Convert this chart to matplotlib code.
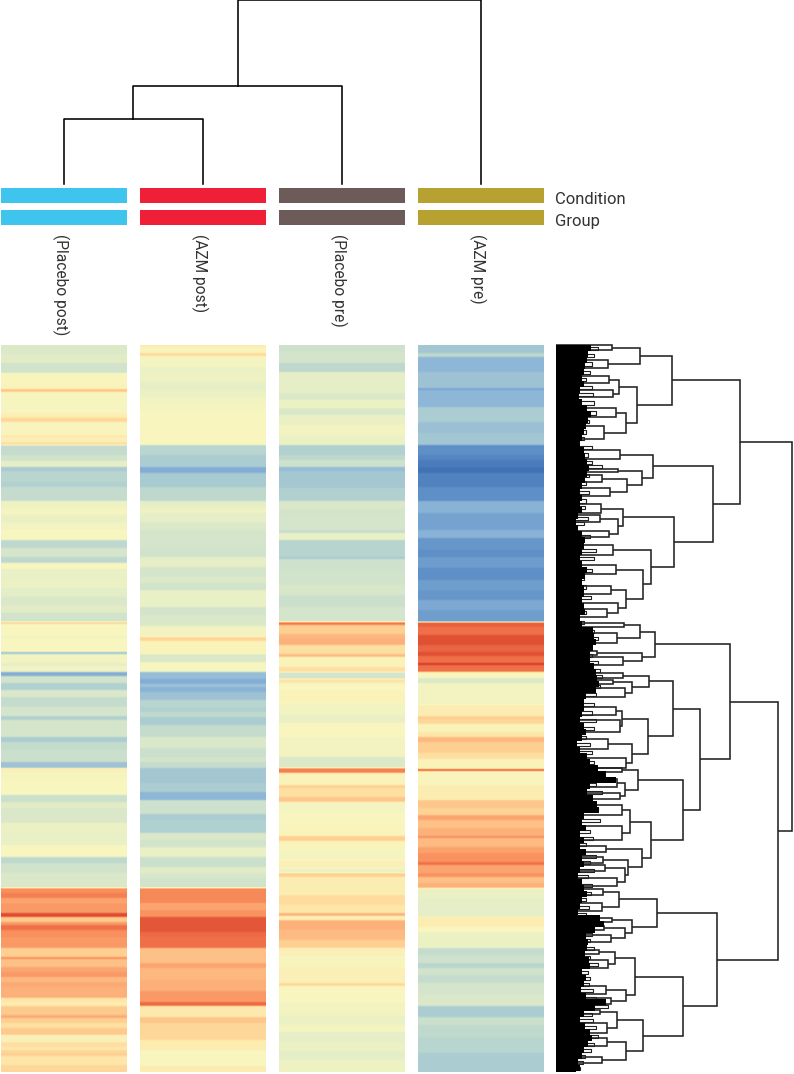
import numpy as np
import matplotlib
matplotlib.use("Agg")
import matplotlib.pyplot as plt
from matplotlib.colors import LinearSegmentedColormap

FIG_W, FIG_H = 794, 1074
N_ROWS = 727

group_labels = ["(Placebo post)", "(AZM post)", "(Placebo pre)", "(AZM pre)"]
group_colors = ["#3FC4EE", "#EE1F36", "#6C5B59", "#B7A231"]
strip_labels = ["Condition", "Group"]

# (first row of the band, scaled expression) read top to bottom, one list per column
placebo_post = [
    (0, -.12), (10, -.10), (18, -.17), (28, .02), (38, .03), (44, .36), (47, -.01), (67, .05), (71, .12), (73, .26),
    (77, .01), (90, .13), (93, .05), (97, .22), (100, -.22), (110, -.17), (116, -.08), (122, -.35), (126, -.27),
    (137, -.30), (142, -.22), (156, -.04), (163, -.02), (170, -.06), (178, -.03), (185, .0), (195, -.25), (203, -.15),
    (212, -.25), (218, .0), (224, -.07), (234, -.05), (243, -.09), (252, -.13), (260, -.10), (268, -.17), (277, .30),
    (279, .0), (291, -.05), (293, .0), (307, -.40), (309, -.03), (318, -.08), (321, -.03), (327, -.55), (331, -.17),
    (338, -.30), (345, -.13), (352, -.22), (362, -.15), (371, -.30), (375, -.15), (392, -.33), (397, -.22), (405, -.20),
    (417, -.40), (423, .05), (428, -.02), (434, .02), (437, .0), (450, -.20), (457, -.10), (463, -.13), (468, -.13),
    (478, -.05), (488, -.07), (500, .0), (512, -.25), (518, -.17), (528, -.13), (543, .60), (548, .66), (553, .50),
    (558, .55), (568, .90), (572, .33), (577, .55), (580, .72), (585, .60), (592, .55), (603, .30), (612, .60),
    (614, .38), (622, .50), (627, .55), (632, .42), (637, .48), (642, .45), (653, .15), (657, .10), (661, .33),
    (670, .48), (673, .30), (678, .20), (683, .33), (690, .05), (697, .20), (702, .14), (705, .26), (708, .30),
    (711, .15), (720, .25),
]
azm_post = [
    (0, .10), (2, .03), (8, .25), (11, -.02), (22, -.05), (28, -.04), (37, -.08), (45, -.05), (53, -.03), (60, -.02),
    (67, .0), (100, -.27), (110, -.33), (122, -.55), (128, -.35), (142, -.25), (156, -.08), (163, -.04), (168, -.08),
    (177, -.12), (185, -.15), (202, -.17), (212, -.08), (222, -.15), (232, -.12), (238, -.17), (245, -.07), (262, -.16),
    (270, -.13), (281, -.03), (292, .27), (296, .03), (309, -.13), (317, -.01), (327, -.45), (334, -.55), (339, -.40),
    (342, -.52), (347, -.40), (355, -.27), (362, -.30), (367, -.24), (372, -.33), (380, -.22), (392, -.13), (403, -.20),
    (412, -.16), (417, -.22), (423, -.38), (438, -.33), (447, -.50), (455, -.18), (469, -.33), (475, -.30), (488, -.13),
    (495, -.17), (502, -.07), (512, -.20), (522, -.10), (528, -.14), (533, -.17), (543, .62), (558, .50), (565, .58),
    (572, .85), (587, .75), (592, .72), (603, .38), (618, .50), (623, .42), (635, .46), (646, .55), (657, .75),
    (661, .12), (672, .35), (678, .25), (695, .10), (705, .0), (721, .10),
]
placebo_pre = [
    (0, -.18), (7, -.16), (18, -.25), (27, -.08), (48, -.12), (55, -.05), (63, -.13), (70, -.06), (80, -.03), (90, -.05),
    (100, -.30), (110, -.25), (115, -.18), (122, -.45), (126, -.37), (143, -.30), (156, -.13), (164, -.16), (172, -.15),
    (185, -.22), (188, -.07), (195, -.28), (212, -.35), (214, -.18), (225, -.17), (240, -.14), (250, -.19), (262, -.15),
    (277, .70), (280, .30), (289, .42), (293, .45), (300, .20), (309, .40), (312, .03), (322, .20), (327, -.15),
    (334, .17), (338, .0), (345, .03), (358, -.03), (370, -.06), (378, .0), (392, -.03), (412, -.12), (423, .65),
    (428, .03), (440, .30), (443, .20), (452, .35), (457, -.02), (468, .0), (478, .02), (491, .30), (496, .02),
    (505, -.02), (515, .05), (523, -.05), (528, .30), (532, .08), (550, .22), (560, .15), (568, .45), (571, .05),
    (575, .45), (585, .40), (595, .30), (603, .05), (612, -.02), (617, .03), (623, .05), (638, .25), (641, .0),
    (657, -.03), (670, -.05), (680, -.02), (687, -.08), (697, -.05), (706, -.09), (715, -.04),
]
azm_pre = [
    (0, -.38), (8, -.25), (12, -.50), (27, -.40), (43, -.60), (45, -.50), (62, -.33), (77, -.42), (88, -.38), (100, -.75),
    (110, -.82), (115, -.90), (122, -.97), (128, -.85), (142, -.75), (156, -.52), (168, -.62), (185, -.52), (193, -.70),
    (205, -.75), (212, -.66), (223, -.75), (235, -.65), (245, -.70), (255, -.58), (265, -.65), (277, .80), (282, .72),
    (290, .88), (300, .78), (307, .88), (311, .72), (318, 1.0), (320, .72), (327, .0), (333, -.12), (338, -.03),
    (360, .08), (371, .30), (375, .25), (379, .03), (387, .15), (392, .42), (397, .30), (408, .20), (414, .03),
    (424, .85), (426, .02), (440, .08), (455, .35), (463, .28), (470, .50), (475, .38), (483, .45), (491, .60),
    (493, .40), (502, .52), (508, .58), (517, .72), (520, .50), (528, .58), (532, .38), (538, .45), (543, -.06),
    (553, -.08), (572, .08), (582, .0), (587, -.05), (603, -.22), (610, -.18), (618, -.27), (623, -.17), (630, -.22),
    (638, -.15), (650, -.13), (661, -.33), (672, -.20), (680, -.24), (692, -.27), (708, -.33),
]
heat_columns = [placebo_post, azm_post, placebo_pre, azm_pre]

# sample tree: merge heights above the leaves
col_merge_heights = [65, 98, 184]
col_leaf_height = 0

# gene tree: (merge height, upper child, lower child), a bare number is a leaf row
row_tree = (236,
    (184,
        (116,
            (84, (56, 0, 5), (52, 15, 23)),
            (81,
                (63, (53, 31, 38), (57, 45, 52)),
                (70, (60, 63, 72), (48, 81, 94)))),
        (157,
            (97,
                (64, 105, 114),
                (86, (62, 124, 127), (71, (46, 130, 137), (54, 143, 151)))),
            (118,
                (67, (45, 159, 168), (62, (44, 170, 177), (53, 186, 192))),
                (95,
                    (57, 200, 210),
                    (87, (60, 220, 229), (70, (55, 241, 249), (62, 258, (51, 264, 272)))))))),
    (222,
        (174,
            (99,
                (84, (68, 278, 282), (61, 288, 298)),
                (86, (41, 306, 310), (67, 312, 320))),
            (144,
                (117,
                    (93, (67, 328, 333), (76, (57, 335, 339), (69, 343, 352))),
                    (92,
                        (66, (60, 362, 370), (64, 375, 387)),
                        (76, (52, 394, 404), (70, 413, 423)))),
                (127,
                    (82, (66, 423, 427), (69, (61, 434, 442), (64, 448, 454))),
                    (95,
                        (74, (66, 460, 470), (66, 481, 495)),
                        (86,
                            (50, 501, 507),
                            (72, (47, 512, 518), (69, (49, 520, 526), (61, 533, 541)))))))),
        (161,
            (101,
                (63, (47, 544, 550), (46, 558, 566)),
                (76, (56, 573, 577), (69, (48, 581, 585), (55, 590, 597)))),
            (127,
                (79,
                    (59, (43, 605, 609), (52, 615, 623)),
                    (70, (50, 641, 649), (55, 653, 659))),
                (87,
                    (61, (44, 665, 669), (51, 678, 688)),
                    (70, (51, 693, 701), (46, 712, 718)))))))

# how far the solid black mass of the leaves reaches, one value per 6 rows
leaf_mass = [
    35, 32, 31, 29, 28, 26, 28, 24, 23, 26, 31, 35, 32, 30, 28, 26, 24, 28, 29, 31,
    33, 31, 29, 26, 24, 26, 24, 26, 22, 20, 22, 26, 29, 28, 26, 24, 26, 31, 29, 26,
    28, 28, 26, 28, 29, 24, 26, 37, 38, 40, 37, 34, 34, 38, 40, 41, 43, 40, 30, 28,
    28, 26, 24, 28, 30, 26, 21, 24, 31, 34, 42, 50, 60, 34, 31, 37, 41, 43, 28, 26,
    30, 24, 28, 24, 30, 26, 28, 24, 22, 26, 28, 31, 26, 24, 22, 44, 48, 39, 30, 32,
    31, 29, 33, 34, 26, 30, 28, 25, 30, 50, 39, 28, 24, 29, 34, 36, 32, 28, 26, 22,
    24, 20,
]

# small brackets just right of the black mass: (row, reach, span)
twigs = [
    (2, 42, 3), (9, 38, 3), (17, 36, 4), (26, 34, 3), (33, 30, 3), (41, 36, 3), (48, 37, 3), (56, 38, 4), (66, 40, 4),
    (75, 33, 3), (85, 30, 4), (92, 28, 3), (101, 36, 3), (108, 32, 4), (116, 36, 3), (120, 46, 3), (129, 33, 3),
    (136, 30, 4), (146, 33, 3), (154, 30, 4), (161, 29, 3), (172, 32, 3), (177, 28, 3), (190, 34, 3), (197, 26, 3),
    (204, 40, 3), (212, 38, 3), (224, 36, 3), (232, 28, 3), (240, 30, 4), (251, 35, 3), (266, 30, 3), (276, 28, 3),
    (285, 38, 3), (292, 42, 3), (302, 33, 3), (309, 36, 3), (316, 42, 3), (324, 44, 3), (330, 46, 3), (340, 44, 3),
    (348, 40, 3), (358, 38, 3), (366, 36, 4), (374, 40, 3), (382, 38, 3), (391, 30, 3), (398, 34, 3), (406, 36, 3),
    (416, 38, 3), (422, 30, 3), (431, 36, 3), (438, 40, 3), (446, 46, 3), (456, 38, 3), (463, 42, 3), (474, 44, 3),
    (485, 34, 3), (492, 37, 3), (498, 30, 3), (510, 40, 3), (516, 34, 3), (524, 38, 3), (530, 32, 3), (539, 36, 3),
    (547, 35, 3), (553, 30, 3), (561, 33, 3), (568, 30, 3), (575, 42, 3), (580, 38, 3), (588, 36, 3), (594, 34, 3),
    (602, 38, 3), (611, 34, 3), (618, 42, 3), (626, 32, 3), (632, 34, 3), (638, 33, 3), (644, 37, 3), (652, 40, 3),
    (660, 52, 3), (668, 36, 3), (674, 37, 3), (681, 40, 3), (690, 42, 3), (698, 38, 3), (704, 35, 3), (710, 29, 3),
    (716, 27, 3), (722, 24, 3),
]

# pixel layout of the figure
col_left = [1, 140, 279, 418]
col_width = 125.5
heat_top, heat_bottom = 345, 1072
strip_tops = [188, 210]
strip_height = 15
line_color = "#222222"

heat_cmap = LinearSegmentedColormap.from_list("heat", [
    (0.0, "#3F70B5"), (0.125, "#5E8FC6"), (0.25, "#8DB6D8"), (0.35, "#B2D1D0"), (0.425, "#D6E6CB"),
    (0.475, "#EDF2C4"), (0.5, "#F9F6BF"), (0.575, "#FEE7A9"), (0.65, "#FDD193"), (0.725, "#FDB27B"),
    (0.8, "#F88F5C"), (0.875, "#EE6B45"), (1.0, "#D43A26"),
])


def px_axes(fig, left, top, width, height):
    ax = fig.add_axes([left / FIG_W, 1 - (top + height) / FIG_H, width / FIG_W, height / FIG_H])
    ax.axis("off")
    return ax


def expand(bands):
    starts = [b[0] for b in bands] + [N_ROWS]
    values = [b[1] for b in bands]
    rows = np.repeat(values, np.diff(starts))
    # the scan is slightly soft, so the bands bleed into each other a little
    return np.convolve(np.pad(rows, 1, mode="edge"), [0.25, 0.5, 0.25], mode="valid")


def draw_tree(ax, node):
    if not isinstance(node, tuple):
        return node, 0
    height, upper, lower = node
    y_a, h_a = draw_tree(ax, upper)
    y_b, h_b = draw_tree(ax, lower)
    ax.plot([h_a, height, height, h_b], [y_a, y_a, y_b, y_b], color=line_color, lw=1.15,
            clip_on=False, solid_joinstyle="miter", solid_capstyle="butt")
    return (y_a + y_b) / 2, height


def main():
    plt.rcParams["font.family"] = ["Roboto", "DejaVu Sans"]
    fig = plt.figure(figsize=(FIG_W / 100, FIG_H / 100), dpi=100)

    # heat map columns and coloured strips
    for i, bands in enumerate(heat_columns):
        ax = px_axes(fig, col_left[i], heat_top, col_width, heat_bottom - heat_top)
        values = expand(bands)[:, np.newaxis]
        ax.imshow(values, cmap=heat_cmap, vmin=-1, vmax=1, aspect="auto", interpolation="nearest")

        for top in strip_tops:
            strip = px_axes(fig, col_left[i], top, col_width, strip_height)
            strip.set_facecolor(group_colors[i])
            strip.axis("on")
            strip.set_xticks([])
            strip.set_yticks([])
            for spine in strip.spines.values():
                spine.set_visible(False)

        fig.text((col_left[i] + col_width / 2 - 3) / FIG_W, 1 - 234 / FIG_H, group_labels[i], rotation=270,
                 ha="center", va="top", fontsize=11.2, color="#333333")

    for top, label in zip(strip_tops, strip_labels):
        fig.text(555 / FIG_W, 1 - (top + strip_height / 2 + 4) / FIG_H, label, ha="left", va="center",
                 fontsize=12, color="#333333")

    # sample dendrogram
    centers = [col_left[i] + col_width / 2 for i in range(4)]
    ax_top = px_axes(fig, 0, 0, 544, 184)
    ax_top.set_xlim(0, 544)
    ax_top.set_ylim(0, 184)
    x_a, h_a = centers[0], col_leaf_height
    x_b, h_b = centers[1], col_leaf_height
    for j, height in enumerate(col_merge_heights):
        ax_top.plot([x_a, x_a, x_b, x_b], [h_a, height, height, h_b], color="black", lw=1.15, clip_on=False)
        x_a, h_a = (x_a + x_b) / 2, height
        if j < 2:
            x_b, h_b = centers[j + 2], col_leaf_height

    # gene dendrogram, black mass goes on top so the leaf lines do not show through it
    ax_tree = px_axes(fig, 556, heat_top, 238, heat_bottom - heat_top)
    ax_tree.set_xlim(0, 238)
    ax_tree.set_ylim(N_ROWS, 0)
    draw_tree(ax_tree, row_tree)
    for row, reach, span in twigs:
        ax_tree.plot([0, reach, reach, 0], [row, row, row + span, row + span], color=line_color, lw=0.8,
                     solid_capstyle="butt")
    edge_rows = np.arange(len(leaf_mass) + 1) * 6
    edge_rows[-1] = N_ROWS
    ax_tree.fill_betweenx(edge_rows, 0, leaf_mass + leaf_mass[-1:], step="post", color="black", lw=0, zorder=5)

    fig.savefig("out.png", dpi=100)


if __name__ == "__main__":
    main()
